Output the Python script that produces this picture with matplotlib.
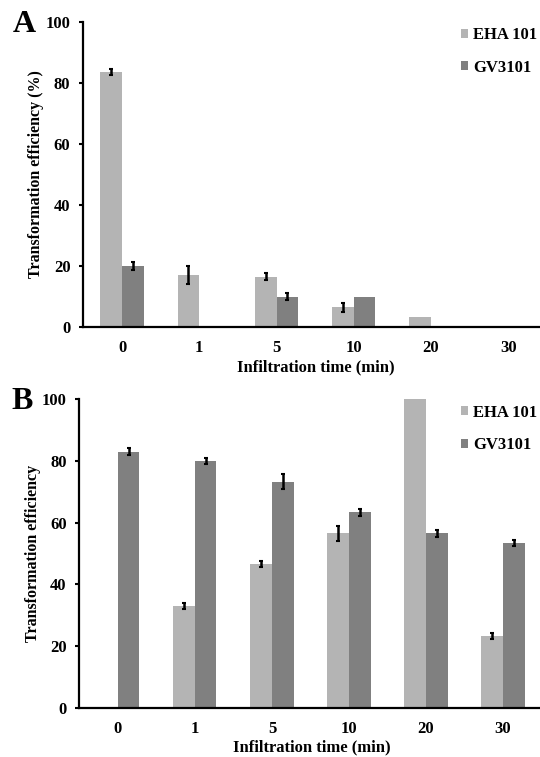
import matplotlib
matplotlib.use("Agg")
import matplotlib.pyplot as plt
import numpy as np

categories = ["0", "1", "5", "10", "20", "30"]
series_names = ["EHA 101", "GV3101"]

a_eha = [83.5, 17.0, 16.5, 6.5, 3.2, 0.0]
a_eha_err = [1.0, 3.0, 1.2, 1.5, 0.0, 0.0]
a_gv = [20.0, 0.0, 10.0, 10.0, 0.0, 0.0]
a_gv_err = [1.2, 0.0, 1.2, 0.0, 0.0, 0.0]

b_eha = [0.0, 33.0, 46.5, 56.5, 100.0, 23.3]
b_eha_err = [0.0, 1.0, 1.0, 2.5, 0.0, 1.0]
b_gv = [83.0, 80.0, 73.3, 63.3, 56.5, 53.3]
b_gv_err = [1.0, 1.0, 2.3, 1.0, 1.2, 1.0]

yticks = [0, 20, 40, 60, 80, 100]

plt.rcParams['font.family'] = ['Liberation Serif', 'DejaVu Serif']
plt.rcParams['font.weight'] = 'bold'

c_eha = '#b4b4b4'
c_gv = '#808080'

fig = plt.figure(figsize=(5.4, 7.57), dpi=100)

def draw(ax, eha, eha_err, gv, gv_err, ylabel, right, ylab_x, xlab_pos):
    x = np.arange(len(categories))
    w = 0.28
    ax.bar(x - w/2, eha, w, color=c_eha, label=series_names[0], zorder=2)
    ax.bar(x + w/2, gv, w, color=c_gv, label=series_names[1], zorder=2)
    ee = np.array(eha_err); ge = np.array(gv_err)
    m1 = ee > 0; m2 = ge > 0
    ax.errorbar((x - w/2)[m1], np.array(eha)[m1], yerr=ee[m1], fmt='none',
                ecolor='black', elinewidth=1.8, capsize=1.5, capthick=1.5, zorder=3)
    ax.errorbar((x + w/2)[m2], np.array(gv)[m2], yerr=ge[m2], fmt='none',
                ecolor='black', elinewidth=1.8, capsize=1.5, capthick=1.5, zorder=3)
    ax.set_xlim(-0.505, right)
    ax.set_ylim(0, 100)
    ax.set_yticks(yticks)
    ax.set_xticks(x)
    ax.set_xticklabels(categories)
    ax.tick_params(axis='x', length=0, pad=9, labelsize=12)
    ax.tick_params(axis='y', length=3, width=1.5, pad=6, labelsize=12)
    for s in ['top', 'right']:
        ax.spines[s].set_visible(False)
    for s in ['left', 'bottom']:
        ax.spines[s].set_linewidth(1.6)
    ax.set_ylabel(ylabel, fontsize=11.5, fontweight='bold')
    ax.yaxis.set_label_coords(ylab_x, 0.5)
    ax.yaxis.label.set_va('center')
    ax.set_xlabel("Infiltration time (min)", fontsize=12, fontweight='bold')
    ax.xaxis.set_label_coords(xlab_pos[0], xlab_pos[1])
    ax.xaxis.label.set_va('center')
    for lab in ax.get_xticklabels() + ax.get_yticklabels():
        lab.set_fontweight('bold')

leg_kw = dict(frameon=False, loc='center left', borderpad=0, borderaxespad=0,
              prop={'family': 'Liberation Serif', 'weight': 'bold', 'size': 12},
              handlelength=0.45, handleheight=0.45, handletextpad=0.3,
              labelspacing=1.0)

axA = fig.add_axes([0.1537, 0.5680, 0.8463, 0.4029])
draw(axA, a_eha, a_eha_err, a_gv, a_gv_err, "Transformation efficiency (%)",
     5.41, -0.103, (0.51, -0.131))
hA, lA = axA.get_legend_handles_labels()
fig.legend(hA, lA, bbox_to_anchor=(0.8537, 0.932), **leg_kw)
fig.text(0.024, 0.967, "A", fontsize=23, fontweight='bold', va='center', ha='left')

axB = fig.add_axes([0.1463, 0.0647, 0.8537, 0.4082])
draw(axB, b_eha, b_eha_err, b_gv, b_gv_err, "Transformation efficiency",
     5.48, -0.0998, (0.505, -0.129))
hB, lB = axB.get_legend_handles_labels()
fig.legend(hB, lB, bbox_to_anchor=(0.8537, 0.4333), **leg_kw)
fig.text(0.022, 0.470, "B", fontsize=23, fontweight='bold', va='center', ha='left')

fig.savefig("out.png", dpi=100)
